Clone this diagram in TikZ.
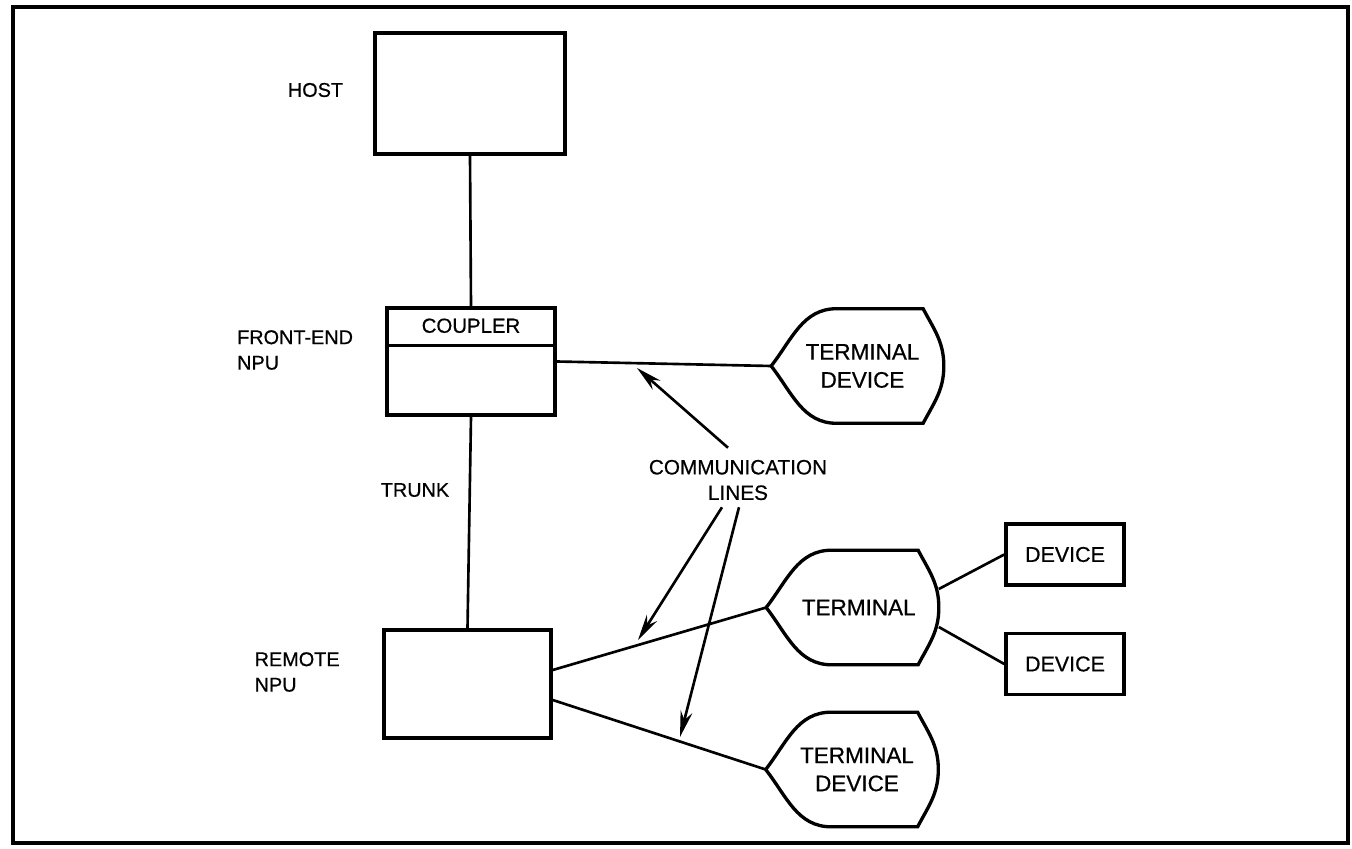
\documentclass[tikz,border=0pt]{standalone}
\usepackage{fontspec}
\setmainfont{Liberation Sans}[FakeBold=0.6]
\usetikzlibrary{calc,arrows.meta,positioning}

\newcommand{\lblfont}{\fontsize{12.2}{15.5}\selectfont}
\newcommand{\sidefont}{\fontsize{11.3}{14.5}\selectfont}
% outline of a terminal (display) symbol round a named node
\newcommand{\termoutline}[1]{%
  \draw[line width=1.9pt] (#1.west) to[out=52,in=180] ($(#1.north west)!0.38!(#1.north east)$)
    -- ($(#1.north west)!0.88!(#1.north east)$) to[out=-62,in=90] (#1.east)
    to[out=-90,in=62] ($(#1.south west)!0.88!(#1.south east)$)
    -- ($(#1.south west)!0.38!(#1.south east)$) to[out=180,in=-52] (#1.west);}

\begin{document}
\begin{tikzpicture}[-,>={Stealth[length=5.2mm,width=2.4mm]},line width=1.5pt,
    every node/.style={font=\lblfont},
    main box/.style={draw,line width=2pt,inner sep=0pt},
    term node/.style={minimum width=3.4cm,minimum height=2.24cm,inner sep=0pt,align=center,
      font=\fontsize{12.8}{16}\selectfont},
    side label/.style={align=left,anchor=west,font=\sidefont}]

    \useasboundingbox (0,0) rectangle (27.04,16.96);
    \draw[line width=2pt] (0.26,0.1) rectangle (26.96,16.82);

    % nodes
    \node[main box,minimum width=3.8cm,minimum height=2.42cm] (host) at (9.40,15.09) {};
    \node[main box,minimum width=3.36cm,minimum height=2.14cm] (fe) at (9.42,9.73) {};
    \node[main box,minimum width=3.34cm,minimum height=2.16cm] (rem) at (9.35,3.28) {};
    \node[font=\fontsize{11.6}{14}\selectfont] (cpl) at ($(fe.north)+(0,-0.39)$) {COUPLER};
    \draw[line width=1.7pt] ($(fe.north west)+(0,-0.78)$) -- ($(fe.north east)+(0,-0.78)$);

    \node[term node] (td1) at (17.15,9.64) {\hspace*{0.2cm}TERMINAL\\\hspace*{0.2cm}DEVICE};
    \node[term node] (trm) at (17.05,4.81) {\hspace*{0.25cm}TERMINAL};
    \node[term node] (td2) at (17.04,1.57) {\hspace*{0.2cm}TERMINAL\\\hspace*{0.2cm}DEVICE};
    \termoutline{td1}
    \termoutline{trm}
    \termoutline{td2}

    \node[main box,minimum width=2.36cm,minimum height=1.22cm] (dev1) at (21.3,5.87) {DEVICE};
    \node[main box,minimum width=2.36cm,minimum height=1.22cm] (dev2) at (21.3,3.68) {DEVICE};

    % labels
    \node[font=\sidefont] (hostlbl) at (6.31,15.16) {HOST};
    \node[side label] (felbl) at (4.6,9.96) {FRONT-END\\NPU};
    \node[side label] (remlbl) at (4.95,3.52) {REMOTE\\NPU};
    \node[font=\sidefont] (trunk) at (8.3,7.16) {TRUNK};
    \node[align=center,font=\fontsize{11.8}{14.5}\selectfont] (comm) at (14.76,7.36) {COMMUNICATION\\LINES};

    % connectors
    \draw (host.south) -- (fe.north);
    \draw (fe.south) -- (rem.north);
    \draw (fe.east) -- (td1.west);
    \draw ([yshift=0.28cm]rem.east) -- (trm.west);
    \draw ([yshift=-0.32cm]rem.east) -- (td2.west);
    \draw ([yshift=0.37cm]trm.east) -- (dev1.west);
    \draw ([yshift=-0.39cm]trm.east) -- (dev2.west);

    % arrows to the lines
    \coordinate (tip1) at (12.74,9.60);
    \coordinate (tip2) at (12.76,4.16);
    \coordinate (tip3) at (13.60,2.22);
    \draw[->] ([xshift=-0.2cm,yshift=0.1cm]comm.north) -- (tip1);
    \draw[->] ([xshift=-0.32cm]comm.south) -- (tip2);
    \draw[->] ([xshift=0.02cm]comm.south) -- (tip3);
\end{tikzpicture}
\end{document}
